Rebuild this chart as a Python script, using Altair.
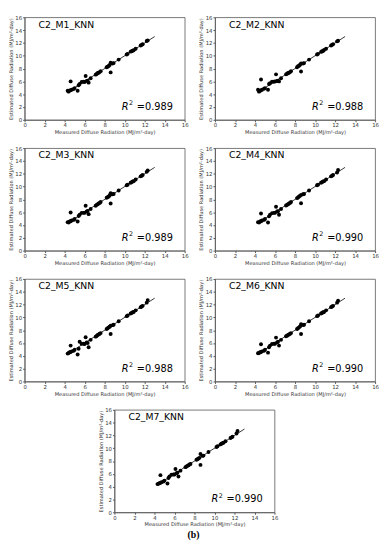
import altair as alt
import pandas as pd

# ---- data ----
measured = [4.3, 4.4, 4.5, 4.6, 4.7, 4.9, 5.0, 4.6, 5.3, 5.4, 5.5, 5.7, 5.9, 6.0, 6.1, 6.2,
            6.3, 6.4, 6.6, 7.1, 7.2, 7.3, 7.4, 7.5, 7.6, 8.2, 8.3, 8.4, 8.5, 8.6, 8.6, 8.8,
            8.9, 9.4, 10.2, 10.3, 10.6, 10.7, 10.8, 10.9, 11.1, 11.6, 11.7, 11.8, 12.2, 12.3]

est_m1 = [4.55, 4.4, 4.6, 4.6, 4.7, 4.8, 4.95, 6.0, 4.55, 5.4, 5.6, 5.9, 5.95, 5.9, 6.85, 6.05,
          6.1, 5.8, 6.5, 7.05, 7.15, 7.3, 7.35, 7.45, 7.6, 8.2, 8.3, 8.4, 8.55, 8.9, 7.4, 8.8,
          8.85, 9.4, 10.2, 10.3, 10.65, 10.7, 10.8, 10.85, 11.1, 11.6, 11.7, 11.8, 12.3, 12.4]
est_m2 = [4.7, 4.4, 4.55, 4.6, 4.7, 4.85, 4.95, 6.3, 4.7, 5.6, 5.7, 5.95, 5.95, 6.0, 7.1, 6.05,
          6.1, 6.0, 6.5, 7.1, 7.2, 7.3, 7.35, 7.45, 7.6, 8.2, 8.35, 8.45, 8.6, 8.8, 7.55, 8.8,
          8.85, 9.4, 10.2, 10.3, 10.6, 10.7, 10.75, 10.9, 11.1, 11.6, 11.7, 11.8, 12.25, 12.35]
est_m3 = [4.45, 4.4, 4.55, 4.6, 4.7, 4.8, 4.95, 5.95, 4.55, 5.4, 5.6, 5.9, 5.9, 5.9, 7.0, 6.1,
          6.2, 5.7, 6.5, 7.0, 7.15, 7.25, 7.35, 7.45, 7.6, 8.25, 8.35, 8.45, 8.6, 8.95, 7.35, 8.8,
          8.85, 9.4, 10.2, 10.3, 10.6, 10.7, 10.8, 10.85, 11.1, 11.6, 11.7, 11.8, 12.3, 12.5]
est_m4 = [4.45, 4.4, 4.55, 4.6, 4.7, 4.8, 4.95, 5.8, 4.4, 5.35, 5.6, 5.85, 5.9, 5.9, 6.85, 6.1,
          6.15, 5.6, 6.5, 7.05, 7.15, 7.25, 7.35, 7.45, 7.6, 8.2, 8.3, 8.45, 8.55, 8.7, 7.4, 8.8,
          8.85, 9.4, 10.2, 10.3, 10.6, 10.7, 10.8, 10.85, 11.1, 11.6, 11.7, 11.8, 12.2, 12.6]
est_m5 = [4.35, 4.45, 4.55, 4.6, 4.7, 4.8, 4.95, 5.6, 4.2, 5.1, 6.2, 5.9, 5.9, 5.85, 6.9, 6.1,
          6.0, 5.35, 6.5, 7.0, 7.1, 7.25, 7.35, 7.45, 7.55, 8.2, 8.3, 8.45, 8.55, 8.7, 7.4, 8.8,
          8.85, 9.4, 10.2, 10.3, 10.6, 10.7, 10.8, 10.85, 11.1, 11.6, 11.7, 11.8, 12.3, 12.7]
est_m6 = [4.4, 4.45, 4.55, 4.6, 4.7, 4.8, 4.95, 5.8, 4.5, 5.35, 5.6, 5.85, 5.9, 5.9, 6.85, 6.1,
          6.2, 5.6, 6.5, 7.05, 7.15, 7.25, 7.35, 7.45, 7.55, 8.2, 8.3, 8.45, 8.6, 8.95, 7.4, 8.8,
          8.85, 9.4, 10.2, 10.3, 10.6, 10.7, 10.8, 10.85, 11.1, 11.6, 11.7, 11.8, 12.3, 12.6]
est_m7 = [4.4, 4.45, 4.55, 4.6, 4.7, 4.8, 4.95, 5.8, 4.5, 5.35, 5.6, 5.85, 5.9, 5.9, 6.75, 6.1,
          6.2, 5.6, 6.5, 7.05, 7.15, 7.25, 7.35, 7.45, 7.55, 8.2, 8.3, 8.4, 8.5, 9.1, 7.4, 8.8,
          8.85, 9.4, 10.2, 10.3, 10.6, 10.7, 10.8, 10.85, 11.1, 11.6, 11.7, 11.8, 12.3, 12.7]

panel_names = ["C2_M1_KNN", "C2_M2_KNN", "C2_M3_KNN", "C2_M4_KNN",
               "C2_M5_KNN", "C2_M6_KNN", "C2_M7_KNN"]
panel_est = [est_m1, est_m2, est_m3, est_m4, est_m5, est_m6, est_m7]
r2_values = ["0.989", "0.988", "0.989", "0.990", "0.988", "0.990", "0.990"]

fit_line = [4.3, 13.0]
axis_ticks = [0, 2, 4, 6, 8, 10, 12, 14, 16]
x_title = "Measured Diffuse Radiation (MJ/m²-day)"
y_title = "Estimated Diffuse Radiation (MJ/m²-day)"

W, H = 164, 105
FONT = "DejaVu Sans"

xs = alt.Scale(domain=[0, 16], nice=False)
ys = alt.Scale(domain=[0, 16], nice=False)


def make_axis():
    return alt.Axis(values=axis_ticks, format="d", labelOverlap=False, labelBound=False,
                    labelFlush=False)


X_ENC = alt.X("m:Q", scale=xs, title=x_title, axis=make_axis())
Y_ENC = alt.Y("e:Q", scale=ys, title=y_title, axis=make_axis())


def panel(name, est, r2):
    pts = pd.DataFrame({"m": measured, "e": est})
    points = alt.Chart(pts).mark_circle(size=16, color="black", opacity=1).encode(x=X_ENC, y=Y_ENC)
    ln = alt.Chart(pd.DataFrame({"m": fit_line, "e": fit_line})).mark_line(
        color="black", strokeWidth=0.8).encode(x=X_ENC, y=Y_ENC)
    ann = pd.DataFrame({"m": [1.4], "e": [14.85], "t": [name]})
    ttl = alt.Chart(ann).mark_text(align="left", baseline="middle", fontSize=9.5,
                                   font=FONT, color="black").encode(
        x=X_ENC, y=Y_ENC, text="t:N")
    rdf = pd.DataFrame({"m": [9.7], "e": [2.0], "r": ["R"], "s": ["2"], "v": ["=" + r2]})
    base = alt.Chart(rdf).encode(x=X_ENC, y=Y_ENC)
    r_t = base.mark_text(align="left", baseline="middle", fontSize=10, font=FONT,
                         fontStyle="italic", color="black").encode(text="r:N")
    s_t = base.mark_text(align="left", baseline="middle", fontSize=6.5, font=FONT,
                         dx=7.5, dy=-4, color="black").encode(text="s:N")
    v_t = base.mark_text(align="left", baseline="middle", fontSize=10, font=FONT,
                         dx=15.5, color="black").encode(text="v:N")
    return alt.layer(ln, points, ttl, r_t, s_t, v_t).properties(width=W, height=H)


panels = [panel(n, e, r) for n, e, r in zip(panel_names, panel_est, r2_values)]

spacer = alt.Chart(pd.DataFrame({"a": [0]})).mark_point(opacity=0).encode(
    x=alt.X("a:Q", axis=None), y=alt.Y("a:Q", axis=None)
).properties(width=64, height=H, view=alt.ViewBackground(stroke="transparent"))

rows = [
    alt.hconcat(panels[0], panels[1], spacing=10),
    alt.hconcat(panels[2], panels[3], spacing=10),
    alt.hconcat(panels[4], panels[5], spacing=10),
    alt.hconcat(spacer, panels[6], spacing=10),
]

chart = alt.vconcat(*rows, spacing=10).properties(
    padding={"left": 0, "top": 0, "right": 0, "bottom": 0},
    title=alt.TitleParams("(b)", orient="bottom", anchor="middle", font="Liberation Serif",
                          fontSize=10, fontWeight="bold", color="black", offset=3),
).configure_view(stroke="#555", strokeWidth=0.8).configure_axis(
    grid=False, labelFont=FONT, titleFont=FONT, labelFontSize=5.5, titleFontSize=5.2,
    titleFontWeight="normal", labelColor="#333", titleColor="#333",
    tickSize=2, tickColor="#555", domainColor="#555", domainWidth=0.8,
    labelPadding=1, titlePadding=1.5,
).configure_concat(spacing=10)

chart.save("out.html", embed_options={"renderer": "svg", "actions": False})
